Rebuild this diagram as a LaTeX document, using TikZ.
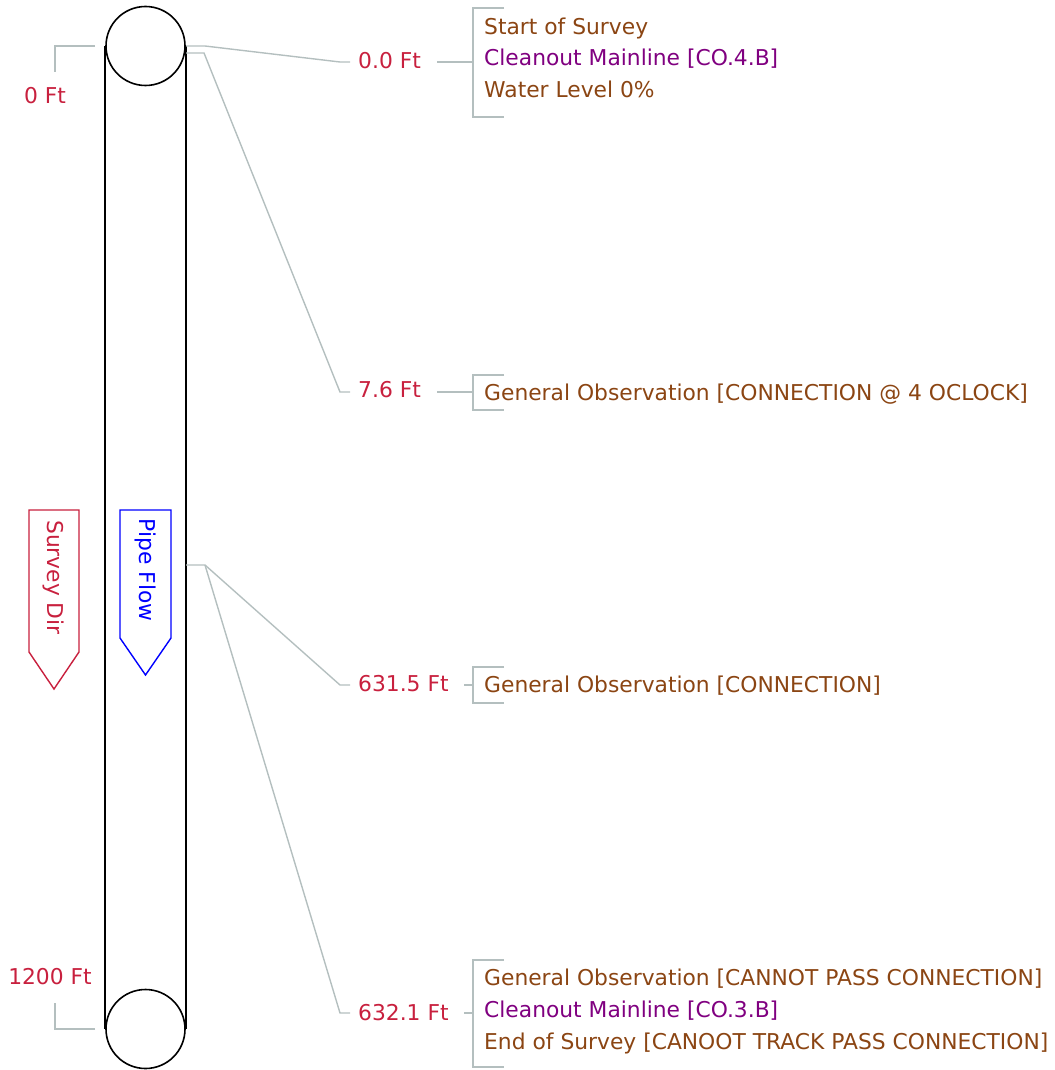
\documentclass[tikz,border=0pt]{standalone}
\usepackage{fontspec}
\setmainfont{DejaVu Sans}
\definecolor{distred}{HTML}{C8203E}
\definecolor{obsbrown}{HTML}{8B4513}
\definecolor{copurple}{HTML}{800080}
\definecolor{leadergray}{HTML}{B4BFBF}
\definecolor{flowblue}{HTML}{0000FF}
\begin{document}
\begin{tikzpicture}[x=1pt,y=-1pt,
  lbl/.style={inner sep=0pt, font=\fontsize{21.8}{26}\selectfont},
  dist/.style={lbl, text=distred, anchor=base west},
  obs/.style={lbl, text=obsbrown, anchor=base west},
  co/.style={lbl, text=copurple, anchor=base west},
  leader/.style={draw=leadergray, line width=1.4pt},
  pipe/.style={draw=black, line width=1.6pt},
  manhole/.style={pipe, circle, minimum size=79pt, inner sep=0pt, fill=white}
]
\useasboundingbox (0,0) rectangle (1054,1070);

% pipe body with a manhole at each end
\node[manhole] (mhtop) at (145.5,46) {};
\node[manhole] (mhbot) at (145.5,1029) {};
\draw[pipe] (mhtop.west) -- (mhbot.west);
\draw[pipe] (mhtop.east) -- (mhbot.east);

% end distances on the left
\node[lbl, text=distred, anchor=base] (ftstart) at (45,104) {0 Ft};
\node[lbl, text=distred, anchor=base] (ftend) at (50,984) {1200 Ft};
\coordinate (ls1) at (95,46);
\coordinate (ls2) at (95,1029);
\draw[leader] (ls1) -- (55,46) -- (55,72);
\draw[leader] (ls2) -- (55,1029) -- (55,1003);

% direction arrows
\draw[distred, line width=1.4pt] (29,510) -- (79,510) -- (79,652) -- (54,689) -- (29,652) -- cycle;
\node[lbl, text=distred, rotate=-90] (survdir) at (54,577.5) {Survey Dir};
\draw[flowblue, line width=1.4pt] (120,510) -- (171,510) -- (171,638) -- (145.5,675) -- (120,638) -- cycle;
\node[lbl, text=flowblue, rotate=-90] (pipeflow) at (145.5,570) {Pipe Flow};

% distance labels
\node[dist] (d1) at (358,68.5) {0.0 Ft};
\node[dist] (d2) at (358,397.5) {7.6 Ft};
\node[dist] (d3) at (358,691) {631.5 Ft};
\node[dist] (d4) at (358,1020.5) {632.1 Ft};

% leaders from the pipe wall to the labels
\coordinate (p1) at (186,46);
\coordinate (p2) at (186,53);
\coordinate (p3) at (186,565);
\coordinate (e1) at (350,62);
\coordinate (e2) at (350,392);
\coordinate (e3) at (350,685);
\coordinate (e4) at (350,1013);
\draw[leader] (p1) -- (205,46) -- (340,62) -- (e1);
\draw[leader] (p2) -- (204,53) -- (340,392) -- (e2);
\draw[leader] (p3) -- (205,565) -- (340,685) -- (e3);
\draw[leader] (205,565) -- (340,1013) -- (e4);

% observation groups
\coordinate (b1) at (473,62);
\coordinate (b2) at (473,392);
\coordinate (b3) at (473,685);
\coordinate (b4) at (473,1013);
\draw[leader] (437,62) -- (b1);
\draw[leader] (437,392) -- (b2);
\draw[leader] (464,685) -- (b3);
\draw[leader] (464,1013) -- (b4);
\draw[leader] (504,8) -| (473,117) -- (504,117);
\draw[leader] (504,375) -| (473,410) -- (504,410);
\draw[leader] (504,667) -| (473,703) -- (504,703);
\draw[leader] (504,960) -| (473,1067) -- (504,1067);

\node[obs] (o11) at (484,34.5) {Start of Survey};
\node[co]  (o12) at (484,66) {Cleanout Mainline [CO.4.B]};
\node[obs] (o13) at (484,97.5) {Water Level 0\%};
\node[obs] (o21) at (484,400) {General Observation [CONNECTION @ 4 OCLOCK]};
\node[obs] (o31) at (484,692.5) {General Observation [CONNECTION]};
\node[obs] (o41) at (484,985.5) {General Observation [CANNOT PASS CONNECTION]};
\node[co]  (o42) at (484,1017.5) {Cleanout Mainline [CO.3.B]};
\node[obs] (o43) at (484,1049.5) {End of Survey [CANOOT TRACK PASS CONNECTION]};
\end{tikzpicture}
\end{document}
